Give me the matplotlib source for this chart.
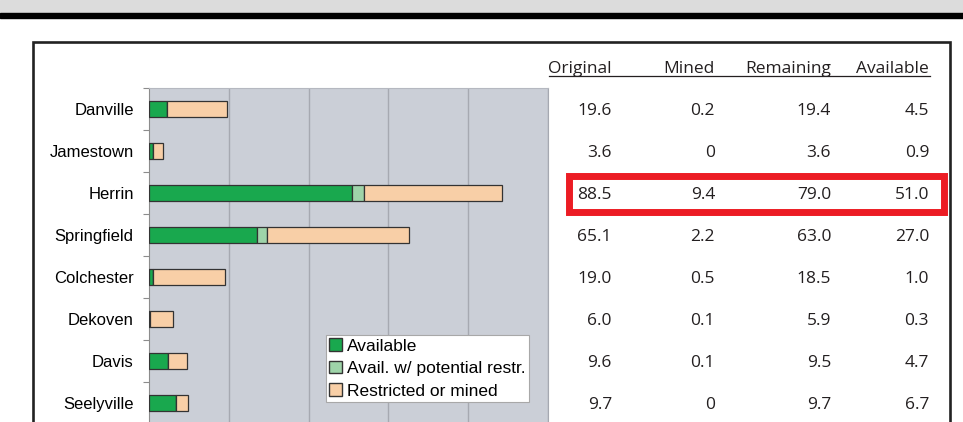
import matplotlib
matplotlib.use("Agg")
import matplotlib.pyplot as plt
from matplotlib.patches import Rectangle, Patch
from matplotlib.transforms import blended_transform_factory
import numpy as np

# coal field data (millions of tons)
fields = ["Danville", "Jamestown", "Herrin", "Springfield",
          "Colchester", "Dekoven", "Davis", "Seelyville"]
original = [19.6, 3.6, 88.5, 65.1, 19.0, 6.0, 9.6, 9.7]
mined = [0.2, 0, 9.4, 2.2, 0.5, 0.1, 0.1, 0]
remaining = [19.4, 3.6, 79.0, 63.0, 18.5, 5.9, 9.5, 9.7]
available = [4.5, 0.9, 51.0, 27.0, 1.0, 0.3, 4.7, 6.7]
potential = [0, 0, 3.0, 2.5, 0, 0, 0, 0]
restricted = [o - a - p for o, a, p in zip(original, available, potential)]

headers = ["Original", "Mined", "Remaining", "Available"]
legend_labels = ["Available", "Avail. w/ potential restr.", "Restricted or mined"]

W, H = 963, 422
fig = plt.figure(figsize=(W / 100, H / 100), dpi=100)

def fx(px):
    return px / W

def fy(py):
    return 1 - py / H

# page decoration at the top
fig.patches.append(Rectangle((0, fy(13)), 1, 13 / H, transform=fig.transFigure,
                             color="#DCDCDC", zorder=0))
fig.patches.append(Rectangle((0, fy(17.5)), 1, 4.5 / H, transform=fig.transFigure,
                             color="#000000", zorder=1))
# framed panel
fig.patches.append(Rectangle((fx(33), -0.1), fx(950) - fx(33), fy(42) + 0.1,
                             transform=fig.transFigure, fill=False,
                             edgecolor="#222222", lw=1.9, zorder=1))

ax = fig.add_axes([fx(149), fy(424), fx(548) - fx(149), (424 - 88) / H])
ax.set_facecolor("#CBCFD7")

c_avail = "#19A84E"
c_pot = "#9ED4A9"
c_restr = "#F8CFA7"
y = np.arange(len(fields))
h = 0.39
kw = dict(height=h, edgecolor="#333333", linewidth=0.9, zorder=3)
ax.barh(y, available, color=c_avail, **kw)
ax.barh(y, potential, left=available, color=c_pot, **kw)
ax.barh(y, restricted, left=np.add(available, potential), color=c_restr, **kw)

ax.set_xlim(0, 100)
ax.set_ylim(len(fields) - 0.5, -0.5)
ax.set_xticks([20, 40, 60, 80, 100])
ax.set_xticklabels([])
ax.tick_params(axis="x", length=0)
ax.grid(axis="x", color="#A6A9B1", lw=1)
ax.set_axisbelow(True)

ax.set_yticks(y)
ax.set_yticklabels(fields, fontfamily="Liberation Sans", fontsize=12)
ax.set_yticks(np.arange(-0.5, len(fields)), minor=True)
ax.tick_params(axis="y", which="major", length=0, pad=11)
ax.tick_params(axis="y", which="minor", length=4, color="#8C8C8C", width=0.8)

ax.spines["left"].set_color("#8C8C8C")
ax.spines["top"].set_color("#B5B8C0")
ax.spines["right"].set_color("#A6A9B1")
ax.spines["bottom"].set_visible(False)

# legend
handles = [Patch(facecolor=c, edgecolor="#333333", lw=1)
           for c in (c_avail, c_pot, c_restr)]
leg = ax.legend(handles, legend_labels, loc="upper left",
                bbox_to_anchor=(fx(326), fy(335)), bbox_transform=fig.transFigure,
                prop={"family": "Liberation Sans", "size": 12.5},
                frameon=True, fancybox=False, framealpha=1, edgecolor="#A8A8A8",
                borderpad=0.2, borderaxespad=0, handlelength=0.7, handleheight=0.7,
                handletextpad=0.3, labelspacing=0.42)
leg.get_frame().set_linewidth(0.8)

# table on the right
col_x = [fx(612), fx(715), fx(831), fx(929)]
tf = blended_transform_factory(fig.transFigure, ax.transData)
font = dict(family="Open Sans", size=12.5, color="#231F20")
for xc, name in zip(col_x, headers):
    fig.text(xc, fy(73), name, ha="right", va="baseline", **font)
fig.add_artist(plt.Line2D([fx(549), fx(930)], [fy(76), fy(76)],
                          transform=fig.transFigure, color="#231F20", lw=0.9))

def fmt(v):
    return "0" if v == 0 else f"{v:.1f}"

for i in range(len(fields)):
    for xc, col in zip(col_x, (original, mined, remaining, available)):
        ax.text(xc, i + 0.05, fmt(col[i]), transform=tf, ha="right", va="center",
                clip_on=False, **font)

# highlight for Herrin
hi = fields.index("Herrin")
ax.add_patch(Rectangle((fx(568.5), hi - 0.4), fx(943.5) - fx(568.5), 0.86,
                       transform=tf, fill=False, edgecolor="#EC1C24", lw=5,
                       clip_on=False, zorder=5))

fig.savefig("out.png", dpi=100)
